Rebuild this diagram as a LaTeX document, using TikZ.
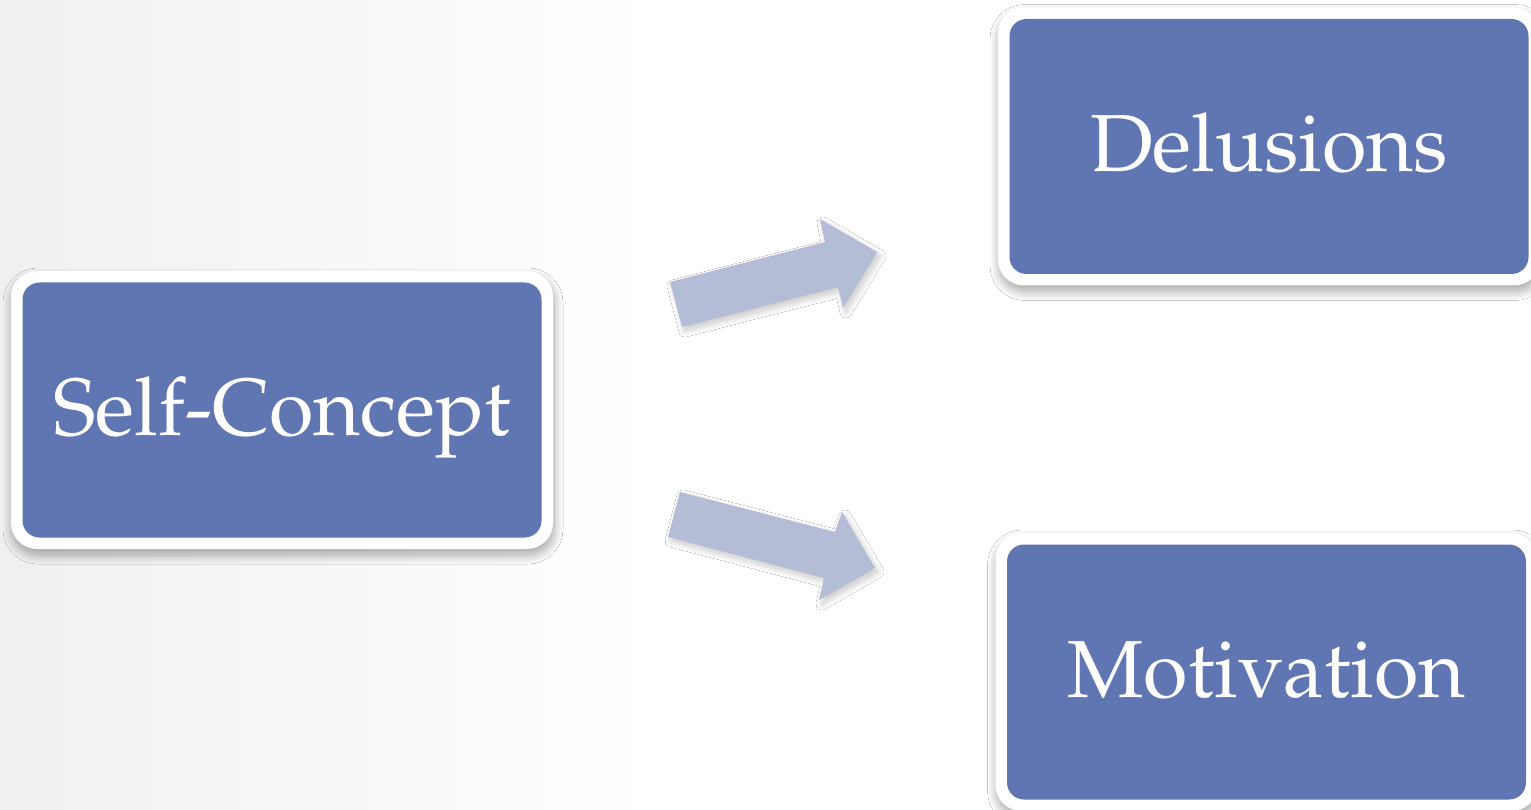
\documentclass[tikz,border=0pt]{standalone}
\usepackage[T1]{fontenc}
\usepackage{mathpazo}
\usetikzlibrary{shadows.blur}
\definecolor{boxblue}{RGB}{96,118,179}
\definecolor{arrowblue}{RGB}{180,188,214}
\definecolor{bggray}{RGB}{240,240,240}
\begin{document}
\begin{tikzpicture}[x=1pt,y=-1pt,
  % white framed box with a blue rounded panel inside
  concept/.style={fill=white, rounded corners=26pt,
    minimum width=542pt, minimum height=278pt,
    inner sep=0pt, text=white, text height=60pt, text depth=9pt,
    font=\fontsize{81}{96}\selectfont,
    blur shadow={shadow xshift=1pt, shadow yshift=-6pt,
      shadow blur radius=9pt, shadow blur steps=16, shadow opacity=35},
    path picture={\fill[boxblue, rounded corners=17pt]
      ([xshift=11.5pt, yshift=-11.5pt]path picture bounding box.north west)
      rectangle
      ([xshift=-11.5pt, yshift=11.5pt]path picture bounding box.south east);}},
  blockarrow/.style={fill=arrowblue,
    blur shadow={shadow xshift=3pt, shadow yshift=-4pt,
      shadow blur radius=6pt, shadow blur steps=14, shadow opacity=22}}]
  \useasboundingbox (0,0) rectangle (1531,810);
  \clip (0,0) rectangle (1531,810);
  % backdrop: faint grey on the left fading to white
  \fill[white] (0,0) rectangle (1531,810);
  \shade[left color=bggray, right color=white] (0,0) rectangle (650,810);

  % concept boxes
  \node[concept] (self) at (282,410) {Self-Concept};
  \node[concept] (delusions) at (1269,146.5) {Delusions};
  \node[concept] (motivation) at (1266.5,672) {Motivation};

  % block arrows from the self-concept to both outcomes
  \fill[blockarrow] (670,282) -- (825,242) -- (820,219) -- (877,252)
    -- (843,308) -- (838,287) -- (682,327) -- cycle;
  \fill[blockarrow] (680,492) -- (835,532) -- (842,512) -- (875,568)
    -- (819,600) -- (824,578) -- (668,537) -- cycle;
\end{tikzpicture}
\end{document}
